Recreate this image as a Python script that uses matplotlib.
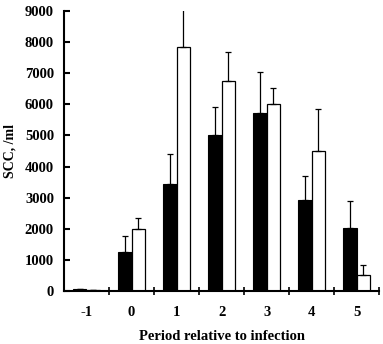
import matplotlib
matplotlib.use("Agg")
import matplotlib.pyplot as plt
import numpy as np

plt.rcParams['font.family'] = ['Liberation Serif', 'DejaVu Serif']
plt.rcParams['font.weight'] = 'bold'

periods = ["-1", "0", "1", "2", "3", "4", "5"]
black_vals = [70, 1260, 3440, 5000, 5720, 2920, 2040]
black_err = [0, 510, 950, 930, 1320, 790, 850]
white_vals = [30, 2000, 7850, 6760, 6000, 4510, 510]
white_err = [0, 340, 1220, 920, 540, 1330, 340]

W, H = 383, 344
fig = plt.figure(figsize=(W / 100, H / 100), dpi=100)
ax = fig.add_axes([0.167, 0.154, 0.823, 0.814])

x = np.arange(len(periods))
w = 0.3
ekw = dict(ecolor='black', elinewidth=0.9, capsize=2, capthick=0.9)
ax.bar(x - w / 2, black_vals, width=w, color='black', edgecolor='black', linewidth=0.8,
       yerr=[np.zeros(len(x)), black_err], error_kw=ekw)
ax.bar(x + w / 2, white_vals, width=w, color='white', edgecolor='black', linewidth=0.9,
       yerr=[np.zeros(len(x)), white_err], error_kw=ekw)

ax.set_xlim(-0.5, len(periods) - 0.5)
ax.set_ylim(0, 9000)
ax.set_yticks(np.arange(0, 9001, 1000))
ax.set_xticks(x)
ax.set_xticklabels(periods)
ax.set_xticks(np.arange(0.5, len(periods), 1.0), minor=True)

for s in ['top', 'right']:
    ax.spines[s].set_visible(False)
for s in ['left', 'bottom']:
    ax.spines[s].set_linewidth(1.5)

ypad, xpad = 8.0, 10.0
ax.tick_params(axis='y', direction='in', length=4, width=1.5, labelsize=10.5, pad=ypad)
ax.tick_params(axis='x', which='major', length=0, labelsize=10.5, pad=xpad)
ax.tick_params(axis='x', which='minor', direction='inout', length=6, width=1.2)
for lab in ax.get_xticklabels() + ax.get_yticklabels():
    lab.set_fontweight('bold')

ylab = ax.set_ylabel("SCC, /ml", fontsize=10, fontweight='bold')
xlab = ax.set_xlabel("Period relative to infection", fontsize=10.5, fontweight='bold')

# Fine-tune label placement to match the reference pixel layout
fig.canvas.draw()
r = fig.canvas.get_renderer()
bb = ax.get_yticklabels()[-1].get_window_extent(r)
ax.tick_params(axis='y', pad=ypad + (bb.x1 - 54) * 72 / 100)
bb = ax.get_xticklabels()[1].get_window_extent(r)
ax.tick_params(axis='x', which='major', pad=xpad + ((bb.y0 + bb.y1) / 2 - (H - 313)) * 72 / 100)

ax_bb = ax.get_window_extent(r)
fig.canvas.draw()
lb = ylab.get_window_extent(r)
xl_target = 10.0
cx = (lb.x0 + lb.x1) / 2
ax.yaxis.set_label_coords(((lb.x1 + (xl_target - cx)) - ax_bb.x0) / ax_bb.width, 0.5)
lb = xlab.get_window_extent(r)
cy = (lb.y0 + lb.y1) / 2
ax.xaxis.set_label_coords(0.5, ((lb.y1 + ((H - 336) - cy)) - ax_bb.y0) / ax_bb.height)

fig.savefig("out.png", dpi=100)
